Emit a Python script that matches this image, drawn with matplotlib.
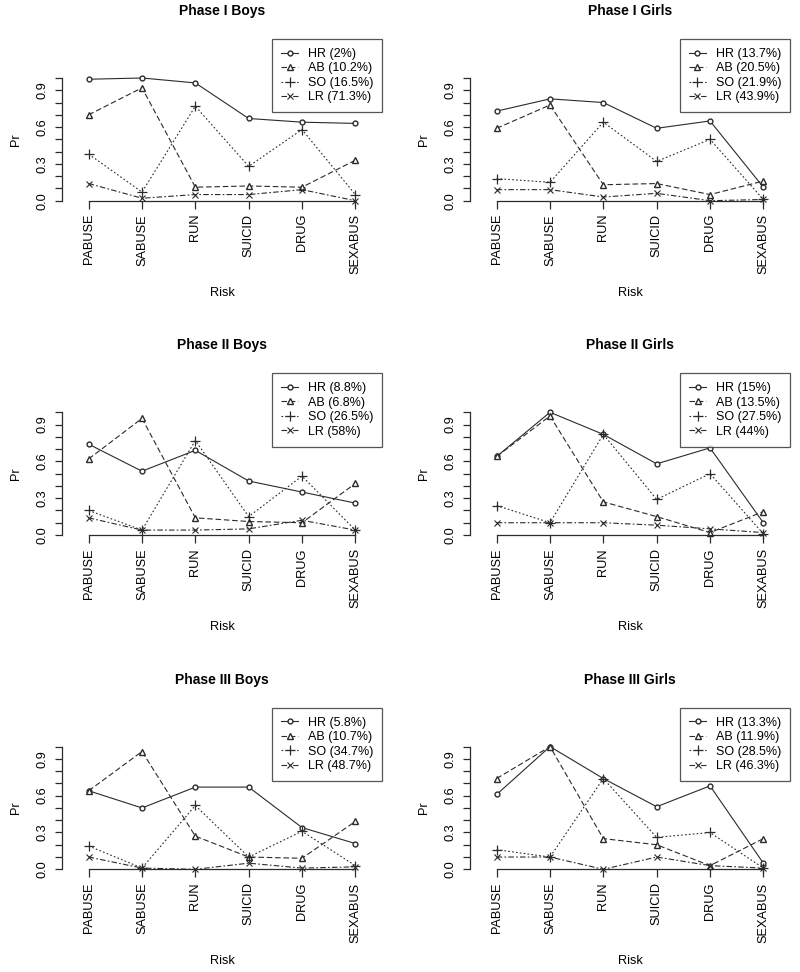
import matplotlib
matplotlib.use("Agg")
import matplotlib.pyplot as plt
import numpy as np

plt.rcParams['font.family'] = ['Liberation Sans', 'DejaVu Sans']

# %% data
risks = ["PABUSE", "SABUSE", "RUN", "SUICID", "DRUG", "SEXABUS"]
classes = ["HR", "AB", "SO", "LR"]
titles = ["Phase I Boys", "Phase I Girls",
          "Phase II Boys", "Phase II Girls",
          "Phase III Boys", "Phase III Girls"]
shares = [["2%", "10.2%", "16.5%", "71.3%"],
          ["13.7%", "20.5%", "21.9%", "43.9%"],
          ["8.8%", "6.8%", "26.5%", "58%"],
          ["15%", "13.5%", "27.5%", "44%"],
          ["5.8%", "10.7%", "34.7%", "48.7%"],
          ["13.3%", "11.9%", "28.5%", "46.3%"]]

p1_boys_hr = [0.99, 1.00, 0.96, 0.67, 0.64, 0.63]
p1_boys_ab = [0.70, 0.92, 0.11, 0.12, 0.11, 0.33]
p1_boys_so = [0.38, 0.07, 0.77, 0.28, 0.58, 0.05]
p1_boys_lr = [0.14, 0.02, 0.05, 0.05, 0.09, 0.00]

p1_girls_hr = [0.73, 0.83, 0.80, 0.59, 0.65, 0.11]
p1_girls_ab = [0.59, 0.78, 0.13, 0.14, 0.05, 0.16]
p1_girls_so = [0.18, 0.15, 0.64, 0.32, 0.50, 0.01]
p1_girls_lr = [0.09, 0.09, 0.03, 0.06, 0.00, 0.01]

p2_boys_hr = [0.74, 0.52, 0.69, 0.44, 0.35, 0.26]
p2_boys_ab = [0.62, 0.95, 0.14, 0.11, 0.10, 0.42]
p2_boys_so = [0.20, 0.04, 0.77, 0.15, 0.48, 0.04]
p2_boys_lr = [0.14, 0.04, 0.04, 0.05, 0.12, 0.04]

p2_girls_hr = [0.64, 1.00, 0.82, 0.58, 0.71, 0.10]
p2_girls_ab = [0.64, 0.97, 0.27, 0.15, 0.02, 0.19]
p2_girls_so = [0.24, 0.10, 0.82, 0.29, 0.50, 0.01]
p2_girls_lr = [0.10, 0.10, 0.10, 0.08, 0.05, 0.02]

p3_boys_hr = [0.64, 0.50, 0.67, 0.67, 0.34, 0.21]
p3_boys_ab = [0.64, 0.96, 0.27, 0.10, 0.09, 0.39]
p3_boys_so = [0.19, 0.01, 0.52, 0.10, 0.31, 0.03]
p3_boys_lr = [0.10, 0.01, 0.00, 0.05, 0.01, 0.02]

p3_girls_hr = [0.61, 1.00, 0.74, 0.51, 0.68, 0.05]
p3_girls_ab = [0.74, 1.00, 0.25, 0.20, 0.03, 0.25]
p3_girls_so = [0.16, 0.10, 0.74, 0.26, 0.30, 0.01]
p3_girls_lr = [0.10, 0.10, 0.00, 0.10, 0.03, 0.01]

panels = [[p1_boys_hr, p1_boys_ab, p1_boys_so, p1_boys_lr],
          [p1_girls_hr, p1_girls_ab, p1_girls_so, p1_girls_lr],
          [p2_boys_hr, p2_boys_ab, p2_boys_so, p2_boys_lr],
          [p2_girls_hr, p2_girls_ab, p2_girls_so, p2_girls_lr],
          [p3_boys_hr, p3_boys_ab, p3_boys_so, p3_boys_lr],
          [p3_girls_hr, p3_girls_ab, p3_girls_so, p3_girls_lr]]

# %% styles (R-ish pch / lty)
col = "#2b2b2b"
styles = [dict(ls="-", marker="o", ms=3.5, mfc="white"),
          dict(ls=(0, (5, 2.5)), marker="^", ms=5, mfc="white"),
          dict(ls=(0, (1.5, 2)), marker="+", ms=7, mew=0.9),
          dict(ls=(0, (5, 2, 1.5, 2)), marker="x", ms=5, mew=0.8)]

W, H = 800, 972
fig = plt.figure(figsize=(W / 100, H / 100), dpi=100)

col_x = [62, 470]
row_bottom = [200.7, 535.0, 869.3]
ax_w = 320
ax_h = 122.7

x = np.arange(1, len(risks) + 1)

for i in range(6):
    r, c = divmod(i, 2)
    ax = fig.add_axes([col_x[c] / W, 1 - row_bottom[r] / H, ax_w / W, ax_h / H])
    for k in range(4):
        ax.plot(x, panels[i][k], color=col, lw=0.8, mec=col,
                label="%s (%s)" % (classes[k], shares[i][k]),
                clip_on=False, **styles[k])

    ax.set_xlim(0.5, 6.5)
    ax.set_ylim(0, 1)
    for s in ["top", "right"]:
        ax.spines[s].set_visible(False)
    ax.spines["left"].set_bounds(0, 1.0)
    ax.spines["bottom"].set_bounds(1, 6)
    for s in ["left", "bottom"]:
        ax.spines[s].set_linewidth(0.9)
        ax.spines[s].set_color(col)

    ax.set_xticks(x)
    ax.set_xticklabels(risks, rotation=90, fontsize=9.2)
    yt = np.round(np.arange(0, 1.01, 0.1), 1)
    ax.set_yticks(yt)
    ax.set_yticklabels(["%.1f" % v if j % 3 == 0 else "" for j, v in enumerate(yt)],
                       rotation=90, va="center", fontsize=9.2)
    ax.tick_params(axis="x", length=5.5, width=0.9, pad=4, color=col)
    ax.tick_params(axis="y", length=5.0, width=0.9, pad=5, color=col)

    ax.set_xlabel("Risk", fontsize=9.2)
    ax.xaxis.label.set_va("center")
    ax.xaxis.set_label_coords(0.5, -92 / ax_h)
    ax.set_ylabel("Pr", fontsize=9.2)
    ax.yaxis.label.set_va("center")
    ax.yaxis.set_label_coords(-46 / ax_w, 0.5)

    ax.set_title(titles[i], fontsize=10, fontweight="bold", pad=0,
                 y=1 + (78 - 11) / ax_h, va="center")

    leg = ax.legend(loc="upper right", bbox_to_anchor=(1.0, 1.318),
                    borderaxespad=0, fontsize=9, frameon=True, fancybox=False,
                    handlelength=1.4, handletextpad=0.75, labelspacing=0.2,
                    borderpad=0.72, numpoints=1)
    leg.get_frame().set_edgecolor(col)
    leg.get_frame().set_linewidth(0.9)

fig.savefig("out.png", dpi=100)
